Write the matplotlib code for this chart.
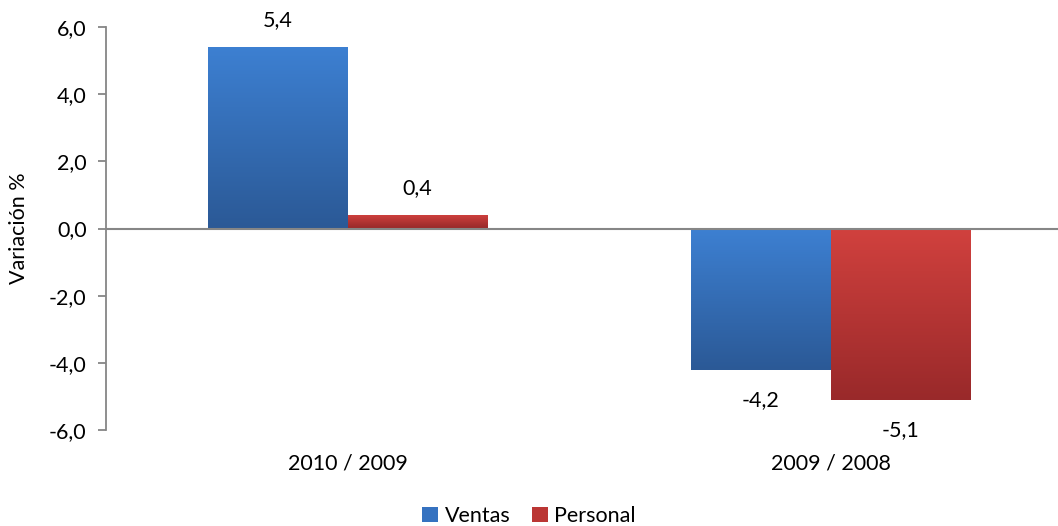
import numpy as np
import matplotlib.pyplot as plt
from matplotlib.colors import LinearSegmentedColormap
from matplotlib.patches import Patch

plt.rcParams['font.family'] = ['Lato', 'DejaVu Sans']

periodos = ['2010 / 2009', '2009 / 2008']
ventas = [5.4, -4.2]
personal = [0.4, -5.1]

azul = LinearSegmentedColormap.from_list('azul', ['#2b5996', '#3d80d2'])
rojo = LinearSegmentedColormap.from_list('rojo', ['#99292a', '#d1413e'])

fig = plt.figure(figsize=(10.58, 5.26), dpi=100)
ax = fig.add_axes([106 / 1058, 1 - 430 / 526, 966 / 1058, 403 / 526])

x = np.arange(len(periodos))
w = 0.288
fs = 15.5


def barras_degradado(pos, vals, cmap):
    bars = ax.bar(pos, vals, w, color='none', edgecolor='none')
    grad = np.linspace(0, 1, 256).reshape(-1, 1)
    for b in bars:
        x0, y0 = b.get_x(), b.get_y()
        x1, y1 = x0 + b.get_width(), y0 + b.get_height()
        im = ax.imshow(grad, cmap=cmap, aspect='auto', origin='lower',
                       extent=[x0, x1, min(y0, y1), max(y0, y1)], zorder=2)
        im.set_clip_path(b)
    return bars


b1 = barras_degradado(x - w / 2, ventas, azul)
b2 = barras_degradado(x + w / 2, personal, rojo)

for bars, vals in ((b1, ventas), (b2, personal)):
    for b, v in zip(bars, vals):
        cx = b.get_x() + b.get_width() / 2
        off = 0.8 if v >= 0 else -0.9
        ax.text(cx, v + off, f'{v:.1f}'.replace('.', ','), ha='center',
                va='center', fontsize=fs)

ax.set_xlim(-0.5, 1.5)
ax.set_ylim(-6, 6)
ticks = np.arange(-6, 6.1, 2)
ax.set_yticks(ticks)
ax.set_yticklabels([f'{t:.1f}'.replace('.', ',') for t in ticks], fontsize=fs)
ax.set_xticks([])
for i, p in enumerate(periodos):
    ax.text(i, -7.0, p, ha='center', va='center', fontsize=fs)

for s in ('top', 'right', 'bottom'):
    ax.spines[s].set_visible(False)
ax.spines['left'].set_color('#868686')
ax.spines['left'].set_linewidth(1.3)
ax.tick_params(axis='y', color='#868686', length=6, width=1.3, pad=8)
ax.axhline(0, color='#868686', lw=1.5, zorder=3)

ax.set_ylabel('Variación %', fontsize=fs, labelpad=14)

handles = [Patch(facecolor='#3572c0'), Patch(facecolor='#bb3634')]
fig.legend(handles, ['Ventas', 'Personal'], loc='center', bbox_to_anchor=(0.5, 1 - 516 / 526),
           ncol=2, frameon=False, fontsize=fs, handlelength=0.75, handleheight=0.75,
           handletextpad=0.3, columnspacing=1.0)

fig.savefig('out.png', dpi=100)
